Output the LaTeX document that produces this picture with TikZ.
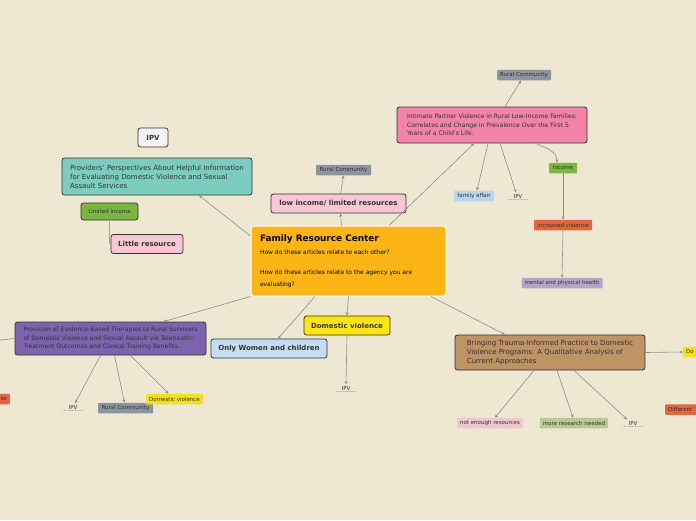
\documentclass[tikz,border=0pt]{standalone}
\usepackage{fontspec}
\setmainfont{DejaVu Sans}
\usepackage{tikz}
\usetikzlibrary{
    arrows.meta,
    positioning
}
\definecolor{PaperBeige}{HTML}{EEE7D2}
\definecolor{InkDark}{HTML}{333333}
\definecolor{LinkGray}{HTML}{8E8E8E}
\definecolor{HubGold}{HTML}{FDB515}
\definecolor{PinkStrong}{HTML}{F283A9}
\definecolor{PinkPale}{HTML}{F8C6D4}
\definecolor{TealSoft}{HTML}{7CCDC0}
\definecolor{PurpleDeep}{HTML}{7D62AD}
\definecolor{BrownSoft}{HTML}{BE9464}
\definecolor{BluePale}{HTML}{C4DDF0}
\definecolor{YellowBright}{HTML}{FFE512}
\definecolor{SlateGray}{HTML}{8C959D}
\definecolor{LeafGreen}{HTML}{7DB541}
\definecolor{BrickRed}{HTML}{E2663F}
\definecolor{Lavender}{HTML}{B7A3CC}
\definecolor{SkyPale}{HTML}{B9D5EC}
\definecolor{RosePale}{HTML}{F2C6CF}
\definecolor{OliveSoft}{HTML}{B9C992}
\definecolor{YellowSoft}{HTML}{F3E020}
\definecolor{WhiteSoft}{HTML}{F3F3F3}
\definecolor{UnderGray}{HTML}{C9C3B2}
\newcommand\mmTitle{\fontsize{8.9}{10}\selectfont\bfseries}
\newcommand\mmTiny{\fontsize{6}{12}\selectfont}
\newcommand\mmHead{\fontsize{6.1}{8.5}\selectfont}
\newcommand\mmBody{\fontsize{7}{9}\selectfont}
\newcommand\mmBold{\fontsize{7}{8}\selectfont\bfseries}
\newcommand\mmTag{\fontsize{5.5}{6}\selectfont}

\begin{document}
\begin{tikzpicture}[
    x=1pt,
    y=-1pt,
    hub/.style={
        fill=HubGold,
        draw=white,
        line width=1pt,
        rounded corners=3pt,
        text width=177pt,
        align=flush left,
        inner sep=0pt,
        minimum width=195pt,
        minimum height=70pt,
        text=black
    },
    topic/.style={
        draw=InkDark,
        rounded corners=2.5pt,
        line width=0.8pt,
        align=left,
        inner sep=0pt,
        text=InkDark
    },
    bubble/.style={
        draw=InkDark,
        rounded corners=2.5pt,
        line width=0.8pt,
        inner sep=0pt,
        minimum height=19pt,
        font=\mmBold,
        text=InkDark
    },
    chip/.style={
        rounded corners=1pt,
        inner xsep=3pt,
        inner ysep=0pt,
        minimum height=10.5pt,
        font=\mmTag,
        text=InkDark
    },
    bare/.style={
        font=\mmTag,
        text=InkDark,
        inner sep=1.5pt,
        minimum width=19pt,
        append after command={
            (\tikzlastnode.south west) edge[draw=UnderGray, line width=0.8pt] (\tikzlastnode.south east)
        }
    },
    link/.style={
        -{Stealth[length=3.2pt,width=3pt]},
        line width=0.6pt,
        draw=LinkGray
    }
]
%
\useasboundingbox (0,0) rectangle (696,520);
\fill[PaperBeige] (0,0) rectangle (696,520);
%
\node[hub] (hub) at (348.5,261) {
    {\mmTitle Family Resource Center}\\[1pt]
    {\mmTiny How do these articles relate to each other?}\\[8pt]
    {\mmTiny How do these articles relate to the agency you are}\\
    {\mmTiny evaluating?}
};
%
% upper right branch
\node[topic, fill=PinkStrong, font=\mmHead, minimum width=190pt, minimum height=36pt] (intimate) at (492,125) {
    Intimate Partner Violence in Rural Low-Income Families:\\
    Correlates and Change in Prevalence Over the First 5\\
    Years of a Child's Life.
};
\node[chip, fill=SlateGray, minimum width=54pt] (ruralA) at (524,75) {Rural Community};
\node[chip, fill=SkyPale, minimum width=40pt] (family) at (474,196) {family affair};
\node[bare] (ipvA) at (518,196) {IPV};
\node[chip, fill=LeafGreen, minimum width=28pt] (income) at (563,168) {Income};
\node[chip, fill=BrickRed, minimum width=58pt] (violence) at (563,225) {increased violence};
\node[chip, fill=Lavender, minimum width=81pt] (health) at (562,283) {mental and physical health};
%
% upper middle branch
\node[bubble, fill=PinkPale, minimum width=135pt] (lowinc) at (338.5,203.5) {low income/ limited resources};
\node[chip, fill=SlateGray, minimum width=55pt] (ruralB) at (343.5,170) {Rural Community};
%
% upper left branch
\node[bubble, fill=WhiteSoft, minimum width=30pt] (ipvbox) at (153,137.5) {IPV};
\node[topic, fill=TealSoft, font=\mmBody, minimum width=190pt, minimum height=37pt] (providers) at (157,176.5) {
    Providers' Perspectives About Helpful Information\\
    for Evaluating Domestic Violence and Sexual\\
    Assault Services
};
\node[topic, fill=LeafGreen, font=\mmTag, minimum width=57pt, minimum height=17pt, align=center] (limited) at (109.5,211.5) {Limited income};
\node[bubble, fill=PinkPale, minimum width=72pt] (little) at (147,244) {Little resource};
%
% lower left branch
\node[topic, fill=PurpleDeep, font=\mmHead, minimum width=191pt, minimum height=33pt] (provision) at (110.5,338.5) {
    Provision of Evidence-Based Therapies to Rural Survivors\\
    of Domestic Violence and Sexual Assault via Telehealth:\\
    Treatment Outcomes and Clinical Training Benefits.
};
\coordinate (leftend) at (0,340);
\node[chip, fill=BrickRed, text width=24pt, align=right, anchor=east] (cutleft) at (10,399) {se};
\node[bare] (ipvB) at (73,407) {IPV};
\node[chip, fill=SlateGray, minimum width=55pt] (ruralC) at (125.5,408) {Rural Community};
\node[chip, fill=YellowSoft, minimum width=57pt] (dvsmall) at (174.5,399) {Domestic violence};
%
% lower middle branch
\node[bubble, fill=BluePale, minimum width=116pt] (women) at (269,348.5) {Only Women and children};
\node[bubble, fill=YellowBright, minimum width=86pt] (dv) at (347,325.5) {Domestic violence};
\node[bare] (ipvC) at (346,388) {IPV};
%
% lower right branch
\node[topic, fill=BrownSoft, font=\mmBody, minimum width=190pt, minimum height=35pt] (bringing) at (550,352.5) {
    Bringing Trauma-Informed Practice to Domestic\\
    Violence Programs: A Qualitative Analysis of\\
    Current Approaches
};
\node[chip, fill=RosePale, minimum width=66pt] (notenough) at (490,423) {not enough resources};
\node[chip, fill=OliveSoft, minimum width=68pt] (research) at (574,423) {more research needed};
\node[bare] (ipvD) at (633,423) {IPV};
\node[chip, fill=YellowSoft, minimum width=40pt, text width=34pt, anchor=west] (cutdo) at (683,352) {Do};
\node[chip, fill=BrickRed, minimum width=50pt, text width=44pt, anchor=west] (cutdiff) at (665,409.5) {Different};
%
% connectors from the hub
\draw[link] ([xshift=40.5]hub.north) -- ([xshift=-18]intimate.south);
\draw[link] ([xshift=-7]hub.north) -- ([xshift=2]lowinc.south);
\draw[link] ([yshift=25]hub.west) -- ([xshift=42]providers.south);
\draw[link] (hub.south west) -- ([xshift=53]provision.north);
\draw[link] ([xshift=-33.5]hub.south) -- ([xshift=9]women.north);
\draw[link] (hub.south) -- (dv.north);
\draw[link] ([xshift=82.5]hub.south) -- ([xshift=-45]bringing.north);
%
\draw[link] ([xshift=13]intimate.north) -- ([xshift=-3]ruralA.south);
\draw[link] ([xshift=-4]intimate.south) -- ([xshift=3]family.north);
\draw[link] ([xshift=8]intimate.south) -- ([xshift=-2]ipvA.north);
\draw[link] ([xshift=44]intimate.south) to[out=-25, in=90] ([xshift=-6]income.north);
\draw[link] (income.south) -- (violence.north);
\draw[link] (violence.south) -- (health.north);
%
\draw[link] ([xshift=2]lowinc.north) -- (ruralB.south);
\draw[draw=LinkGray!80, line width=1.6pt] (limited.south) -- (limited.south |- little.west);
%
\draw[draw=LinkGray, line width=0.6pt] (leftend) -- (provision.west);
\draw[link] ([xshift=-10]provision.south) -- ([xshift=2]ipvB.north);
\draw[link] ([xshift=4]provision.south) -- ([xshift=-1]ruralC.north);
\draw[link] ([xshift=20]provision.south) -- ([xshift=-6]dvsmall.north);
%
\draw[link] (dv.south) -- (ipvC.north);
%
\draw[link] ([xshift=-16]bringing.south) -- ([xshift=5]notenough.north);
\draw[link] ([xshift=7]bringing.south) -- ([xshift=-1]research.north);
\draw[link] ([xshift=24]bringing.south) -- ([xshift=-6]ipvD.north);
\draw[link] (bringing.east) -- (cutdo.west);
%
\end{tikzpicture}
\end{document}
